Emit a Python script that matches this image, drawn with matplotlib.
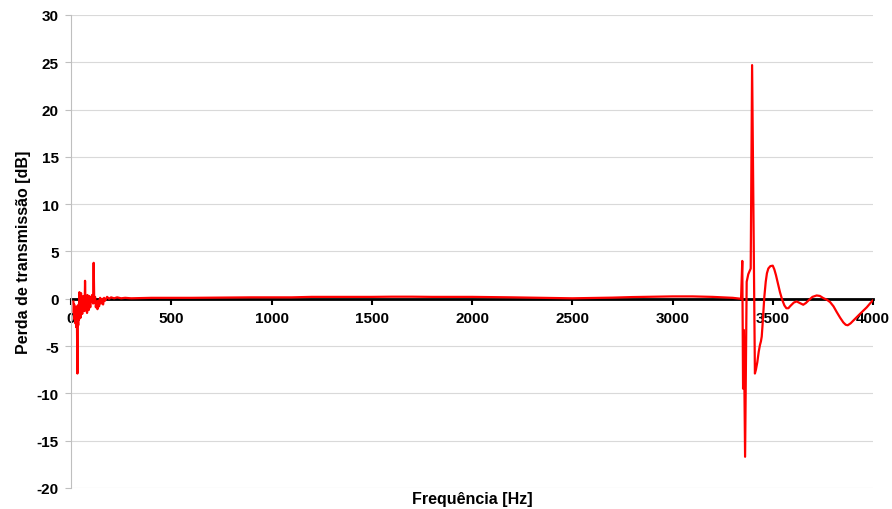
import matplotlib.pyplot as plt

plt.rcParams['font.family'] = ['Liberation Sans', 'DejaVu Sans']
plt.rcParams['axes.unicode_minus'] = False

# frequência [Hz] e perda de transmissão [dB]
freq_low = [12, 14, 16, 18, 20, 22, 24, 26, 28, 30, 32, 34, 36, 38, 40, 42, 44, 46, 48, 50,
            52, 54, 56, 58, 60, 62, 64, 66, 68, 70, 72, 74, 76, 78, 80, 82, 84, 86, 88, 90,
            92, 94, 96, 98, 100, 105, 110, 113, 116, 120, 124, 128, 132, 136, 140, 145,
            150, 155, 160, 165, 170, 180, 190, 200, 215, 230, 250, 270]
tl_low = [-0.3, -1.5, -0.6, -2.2, -1.0, -2.6, -1.2, -3.0, -0.8, -3.2, -7.9, -1.5, -2.8, -0.6,
          -2.2, 0.7, -1.8, -0.4, -2.0, 0.6, -1.4, -0.3, -1.6, 0.2, -1.2, 0.3, -0.9, -0.2,
          -1.3, 1.9, -0.5, -1.1, 0.2, -0.7, -1.5, 0.4, -0.6, -0.2, -1.2, 0.3, -0.4, -0.1,
          -0.9, 0.2, -0.3, 0.4, -0.5, 3.8, -0.4, 0.2, -0.9, -0.3, -1.1, -0.2, -0.8, 0.1,
          -0.5, 0.0, -0.6, 0.1, -0.2, 0.2, 0.0, 0.15, 0.05, 0.15, 0.05, 0.1]

freq_mid = [300, 400, 500, 600, 700, 800, 900, 1000, 1100, 1200, 1300, 1400, 1500, 1600,
            1700, 1800, 1900, 2000, 2100, 2200, 2300, 2400, 2500, 2600, 2700, 2800, 2900,
            3000, 3100, 3200, 3300, 3342]
tl_mid = [0.05, 0.1, 0.1, 0.1, 0.12, 0.15, 0.15, 0.15, 0.15, 0.2, 0.2, 0.2, 0.2, 0.22,
          0.22, 0.2, 0.2, 0.2, 0.18, 0.15, 0.12, 0.1, 0.05, 0.08, 0.12, 0.18, 0.22,
          0.25, 0.25, 0.2, 0.1, 0.0]

freq_high = [3348, 3352, 3356, 3362, 3370, 3378, 3390, 3397, 3411, 3416, 3423, 3430, 3436,
             3441, 3445, 3449, 3453, 3458, 3465, 3471, 3478, 3488, 3500, 3508, 3516, 3526,
             3536, 3547, 3558, 3568, 3578, 3586, 3594, 3605, 3619, 3635, 3652, 3665, 3677,
             3698, 3719, 3735, 3752, 3770, 3786, 3803, 3819, 3836, 3852, 3864, 3874, 3888,
             3902, 3918, 3935, 3952, 3969, 3985, 3998]
tl_high = [4.0, -9.5, -3.3, -16.7, 1.8, 2.6, 3.2, 24.7, -7.9, -7.5, -6.7, -5.6, -4.9,
           -4.5, -4.0, -2.8, -1.4, 0.2, 1.8, 2.7, 3.2, 3.45, 3.5, 3.1, 2.5, 1.6,
           0.7, -0.1, -0.7, -1.0, -1.0, -0.8, -0.63, -0.4, -0.28, -0.45, -0.63, -0.45, -0.2,
           0.2, 0.35, 0.3, 0.07, -0.1, -0.35, -0.8, -1.4, -2.0, -2.5, -2.75, -2.8, -2.6,
           -2.3, -1.95, -1.6, -1.25, -0.9, -0.5, -0.2]

freq = freq_low + freq_mid + freq_high
tl = tl_low + tl_mid + tl_high

fig = plt.figure(figsize=(8.92, 5.10), dpi=100)
ax = fig.add_axes([0.0796, 0.0412, 0.8991, 0.9275])

ax.plot(freq, tl, color='#ff0000', lw=1.6, zorder=3, solid_joinstyle='round')

ax.set_xlim(0, 4000)
ax.set_ylim(-20, 30)
ax.set_xticks(range(0, 4001, 500))
ax.set_yticks(range(-20, 31, 5))
ax.grid(axis='y', color='#d9d9d9', lw=0.8)
ax.set_axisbelow(True)

ax.spines['top'].set_visible(False)
ax.spines['right'].set_visible(False)
ax.spines['left'].set_color('#bfbfbf')
ax.spines['bottom'].set_position(('data', 0))
ax.spines['bottom'].set_linewidth(2)
ax.spines['bottom'].set_zorder(2)

ax.tick_params(axis='y', colors='#bfbfbf', labelcolor='black', length=4, labelsize=11, pad=5)
ax.tick_params(axis='x', colors='black', length=4, width=1.5, labelsize=11, pad=5)
for lbl in ax.get_xticklabels() + ax.get_yticklabels():
    lbl.set_fontweight('bold')

ax.set_ylabel('Perda de transmissão [dB]', fontsize=11.5, fontweight='bold', labelpad=4)
fig.text(0.529, 0.005, 'Frequência [Hz]', fontsize=11.5, fontweight='bold',
         ha='center', va='bottom')

fig.savefig('out.png', dpi=100)
